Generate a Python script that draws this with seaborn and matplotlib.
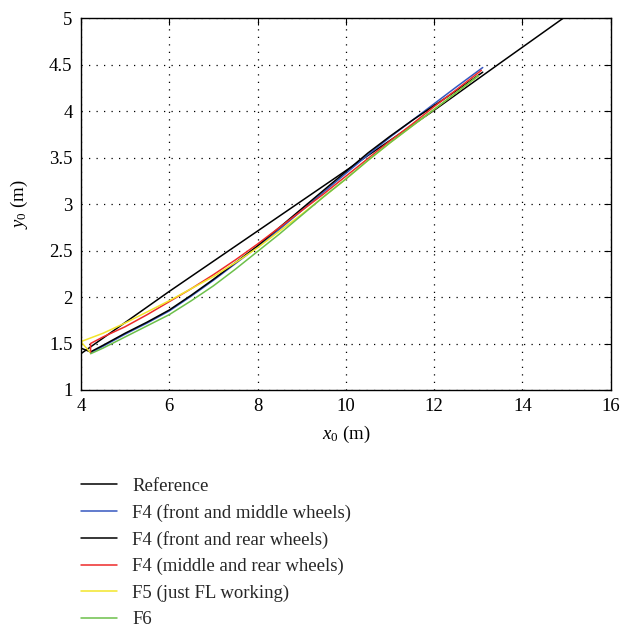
import numpy as np
import pandas as pd
import matplotlib
matplotlib.use("Agg")
import matplotlib.pyplot as plt
import seaborn as sns

sns.set_theme(style="white")
plt.rcParams['font.family'] = ['Liberation Serif', 'DejaVu Serif']
plt.rcParams['mathtext.fontset'] = 'custom'
plt.rcParams['mathtext.rm'] = 'Liberation Serif'
plt.rcParams['mathtext.it'] = 'Liberation Serif:italic'

labels = ["Reference", "F4 (front and middle wheels)", "F4 (front and rear wheels)",
          "F4 (middle and rear wheels)", "F5 (just FL working)", "F6"]
colors = ["#000000", "#3557c0", "#000000", "#ee2a2a", "#f2e52a", "#6cc04a"]

ref_x = [4.0, 6.0, 8.0, 10.0, 12.0, 13.5, 14.92]
ref_y = [1.39, 2.06, 2.71, 3.36, 4.01, 4.52, 5.00]

f4fm_x = [4.22, 4.5, 5.0, 5.5, 6.0, 6.5, 7.0, 7.5, 8.0, 8.5, 9.0, 9.5, 10.0,
          10.5, 11.0, 11.5, 12.0, 12.5, 13.1]
f4fm_y = [1.40, 1.47, 1.60, 1.72, 1.85, 2.01, 2.18, 2.36, 2.54, 2.73, 2.93, 3.13, 3.33,
          3.53, 3.72, 3.90, 4.08, 4.26, 4.47]

f4fr_x = [4.0, 4.22, 4.5, 5.0, 5.5, 6.0, 6.5, 7.0, 7.5, 8.0, 8.5, 9.0, 9.5, 10.0,
          10.5, 11.0, 11.5, 12.0, 12.5, 13.1]
f4fr_y = [1.45, 1.41, 1.48, 1.61, 1.73, 1.86, 2.02, 2.19, 2.37, 2.55, 2.75, 2.95, 3.15, 3.35,
          3.55, 3.73, 3.90, 4.06, 4.22, 4.42]

f4mr_x = [4.22, 4.22, 4.5, 5.0, 5.5, 6.0, 6.5, 7.0, 7.5, 8.0, 8.5, 9.0, 9.5, 10.0,
          10.5, 11.0, 11.5, 12.0, 12.5, 13.07]
f4mr_y = [1.40, 1.50, 1.57, 1.68, 1.81, 1.95, 2.09, 2.24, 2.40, 2.57, 2.75, 2.93, 3.11, 3.30,
          3.49, 3.68, 3.86, 4.05, 4.23, 4.44]

f5_x = [4.2, 4.0, 4.5, 5.0, 5.5, 6.0, 6.5, 7.0, 7.5, 8.0, 8.5, 9.0, 9.5, 10.0,
        10.5, 11.0, 11.5, 12.0, 12.5, 13.0]
f5_y = [1.41, 1.52, 1.61, 1.72, 1.84, 1.96, 2.09, 2.22, 2.37, 2.53, 2.71, 2.89, 3.08, 3.27,
        3.47, 3.66, 3.84, 4.02, 4.20, 4.38]

f6_x = [4.22, 4.5, 5.0, 5.5, 6.0, 6.5, 7.0, 7.5, 8.0, 8.5, 9.0, 9.5, 10.0,
        10.5, 11.0, 11.5, 12.0, 12.5, 13.0]
f6_y = [1.39, 1.45, 1.57, 1.69, 1.81, 1.96, 2.12, 2.30, 2.49, 2.68, 2.88, 3.08, 3.27,
        3.47, 3.66, 3.84, 4.02, 4.20, 4.38]

series = [(ref_x, ref_y), (f4fm_x, f4fm_y), (f4fr_x, f4fr_y),
          (f4mr_x, f4mr_y), (f5_x, f5_y), (f6_x, f6_y)]

fig = plt.figure(figsize=(6.22, 6.30), dpi=100)
ax = fig.add_axes([0.130, 0.381, 0.852, 0.590])

for (xs, ys), lab, col in zip(series, labels, colors):
    df = pd.DataFrame({"x": xs, "y": ys})
    sns.lineplot(data=df, x="x", y="y", sort=False, estimator=None, ax=ax,
                 color=col, linewidth=1.1, label=lab, legend=False)

ax.set_xlim(4, 16)
ax.set_ylim(1, 5)
ax.set_xticks([4, 6, 8, 10, 12, 14, 16])
ax.set_yticks([1, 1.5, 2, 2.5, 3, 3.5, 4, 4.5, 5])
ax.set_yticklabels(["1", "1.5", "2", "2.5", "3", "3.5", "4", "4.5", "5"])
ax.grid(True, color="black", linestyle=(0, (1, 5)), linewidth=0.9)
for s in ax.spines.values():
    s.set_color("black")
    s.set_linewidth(1.0)
ax.tick_params(direction="in", length=5, width=0.8, colors="black",
               labelsize=13.5, top=True, right=True, pad=6)
ax.set_xlabel("$x_0$ (m)", fontsize=13.5, color="black", labelpad=6)
ax.set_ylabel("$y_0$ (m)", fontsize=13.5, color="black", labelpad=14)

handles = ax.get_lines()[:6]
fig.legend(handles, labels, loc="upper left", bbox_to_anchor=(0.118, 0.254),
           frameon=False, fontsize=13.5, handlelength=1.9, handletextpad=0.85,
           labelspacing=0.49, borderaxespad=0)

fig.savefig("out.png", dpi=100)
